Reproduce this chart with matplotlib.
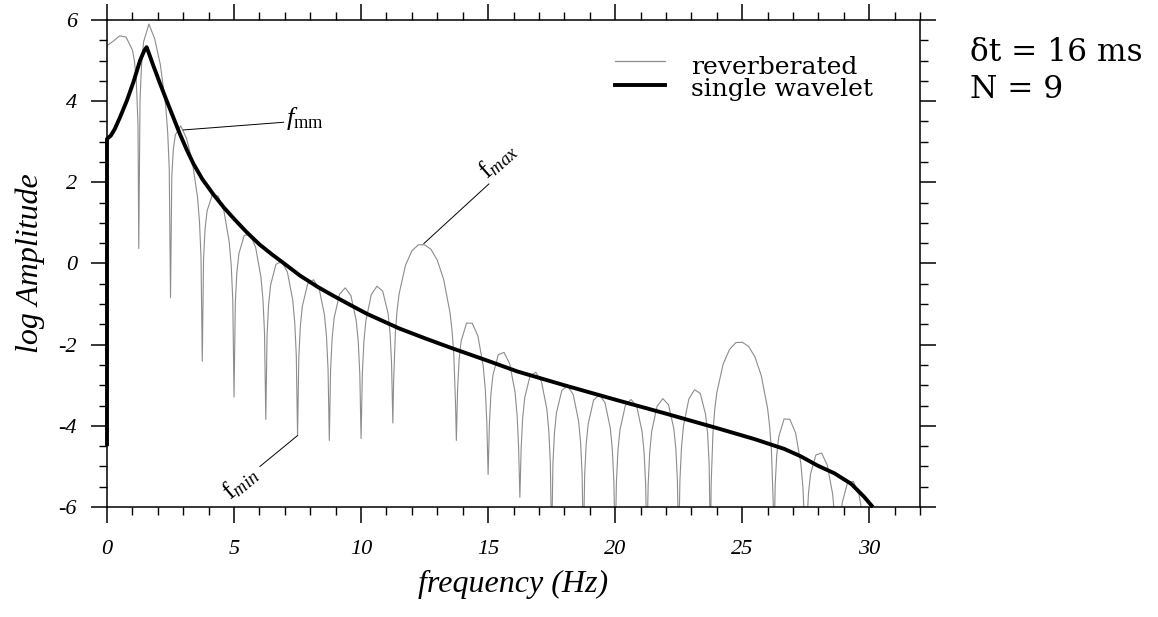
import matplotlib
matplotlib.use('Agg')
import matplotlib.pyplot as plt
from matplotlib.ticker import MultipleLocator, FormatStrFormatter

plt.rcParams['font.family'] = ['Liberation Serif', 'DejaVu Serif']
plt.rcParams['mathtext.fontset'] = 'custom'
plt.rcParams['mathtext.rm'] = 'Liberation Serif'
plt.rcParams['mathtext.it'] = 'Liberation Serif:italic'
plt.rcParams['axes.unicode_minus'] = False

# single wavelet spectrum (log amplitude)
wavelet_f = [0, 0, 0.15, 0.31, 0.51, 0.78, 1.04, 1.30, 1.47, 1.56, 1.65, 1.82, 2.09, 2.35,
             2.61, 2.87, 3.14, 3.4, 3.75, 4.19, 4.6, 5.0, 5.5, 6.0, 6.5, 6.95, 7.6, 8.3,
             8.92, 9.6, 10.23, 11.5, 12.5, 13.5, 15.0, 16.15, 18.0, 20.09, 22.0, 24.03,
             25.5, 26.66, 27.3, 27.97, 28.63, 29.29, 29.8, 30.14]
wavelet_logA = [-4.5, 3.07, 3.15, 3.32, 3.6, 4.01, 4.47, 5.0, 5.25, 5.33, 5.18, 4.88, 4.43, 4.01,
                3.6, 3.19, 2.8, 2.46, 2.08, 1.70, 1.38, 1.10, 0.77, 0.47, 0.22, 0.01, -0.3, -0.58,
                -0.8, -1.03, -1.24, -1.6, -1.84, -2.07, -2.4, -2.66, -3.0, -3.37, -3.7, -4.06,
                -4.33, -4.57, -4.75, -4.98, -5.17, -5.43, -5.75, -6.0]

# reverberated spectrum, one lobe per line (each line ends on the following notch)
reverb_f = [
    0, 0.25, 0.5, 0.75, 1.0, 1.08, 1.15, 1.22, 1.25,
    1.30, 1.36, 1.44, 1.65, 1.875, 2.10, 2.31, 2.39, 2.45, 2.5,
    2.55, 2.61, 2.69, 2.90, 3.125, 3.35, 3.56, 3.64, 3.70, 3.75,
    3.80, 3.86, 3.94, 4.15, 4.375, 4.60, 4.81, 4.89, 4.95, 5.0,
    5.05, 5.11, 5.19, 5.40, 5.625, 5.85, 6.06, 6.14, 6.20, 6.25,
    6.30, 6.36, 6.44, 6.65, 6.875, 7.10, 7.31, 7.39, 7.45, 7.5,
    7.55, 7.61, 7.69, 7.90, 8.125, 8.35, 8.56, 8.64, 8.70, 8.75,
    8.80, 8.86, 8.94, 9.15, 9.375, 9.60, 9.81, 9.89, 9.95, 10.0,
    10.05, 10.11, 10.19, 10.40, 10.625, 10.85, 11.06, 11.14, 11.20, 11.25,
    11.28, 11.35, 11.42, 11.5, 11.75, 12.0, 12.25, 12.5, 12.75, 13.0, 13.25, 13.5, 13.58, 13.65, 13.72, 13.75,
    13.80, 13.86, 13.94, 14.15, 14.375, 14.60, 14.81, 14.89, 14.95, 15.0,
    15.05, 15.11, 15.19, 15.40, 15.625, 15.85, 16.06, 16.14, 16.20, 16.25,
    16.30, 16.36, 16.44, 16.65, 16.875, 17.10, 17.31, 17.39, 17.45, 17.5,
    17.55, 17.61, 17.69, 17.90, 18.125, 18.35, 18.56, 18.64, 18.70, 18.75,
    18.80, 18.86, 18.94, 19.15, 19.375, 19.60, 19.81, 19.89, 19.95, 20.0,
    20.05, 20.11, 20.19, 20.40, 20.625, 20.85, 21.06, 21.14, 21.20, 21.25,
    21.30, 21.36, 21.44, 21.65, 21.875, 22.10, 22.31, 22.39, 22.45, 22.5,
    22.55, 22.61, 22.69, 22.90, 23.125, 23.35, 23.56, 23.64, 23.70, 23.75,
    23.78, 23.85, 23.92, 24.0, 24.25, 24.5, 24.75, 25.0, 25.25, 25.5, 25.75, 26.0, 26.08, 26.15, 26.22, 26.25,
    26.30, 26.36, 26.44, 26.65, 26.875, 27.10, 27.31, 27.39, 27.45, 27.5,
    27.55, 27.61, 27.69, 27.90, 28.125, 28.35, 28.56, 28.64, 28.70, 28.75,
    28.80, 28.86, 28.94, 29.15, 29.375, 29.60, 29.81, 29.89, 29.95, 30.0,
]
reverb_logA = [
    5.37, 5.48, 5.61, 5.58, 5.26, 4.99, 4.55, 3.43, 0.37,
    4.04, 4.90, 5.46, 5.90, 5.54, 4.90, 3.89, 3.22, 2.33, -0.84,
    2.13, 2.81, 3.17, 3.39, 3.09, 2.54, 1.65, 1.03, 0.17, -2.41,
    0.10, 0.85, 1.30, 1.70, 1.66, 1.30, 0.53, -0.05, -0.90, -3.29,
    -0.97, -0.23, 0.24, 0.69, 0.72, 0.40, -0.34, -0.90, -1.72, -3.84,
    -1.77, -1.02, -0.53, -0.02, 0.05, -0.21, -0.90, -1.46, -2.26, -4.24,
    -2.31, -1.54, -1.05, -0.50, -0.40, -0.62, -1.27, -1.81, -2.60, -4.36,
    -2.62, -1.85, -1.34, -0.76, -0.60, -0.79, -1.41, -1.93, -2.72, -4.31,
    -2.72, -1.93, -1.41, -0.77, -0.56, -0.68, -1.22, -1.71, -2.46, -3.93,
    -2.93, -1.70, -1.14, -0.74, -0.04, 0.31, 0.46, 0.46, 0.35, 0.08, -0.39, -1.21, -1.65, -2.24, -3.51, -4.36,
    -3.08, -2.36, -1.91, -1.47, -1.47, -1.79, -2.54, -3.11, -3.93, -5.2,
    -3.98, -3.22, -2.75, -2.25, -2.19, -2.47, -3.17, -3.73, -4.53, -5.76,
    -4.57, -3.81, -3.31, -2.77, -2.68, -2.91, -3.58, -4.13, -4.93, -7.0,
    -4.95, -4.19, -3.68, -3.13, -3.01, -3.23, -3.88, -4.41, -5.20, -7.0,
    -5.22, -4.45, -3.95, -3.37, -3.23, -3.43, -4.06, -4.59, -5.38, -7.0,
    -5.39, -4.61, -4.10, -3.50, -3.35, -3.52, -4.14, -4.66, -5.44, -7.0,
    -5.44, -4.66, -4.13, -3.52, -3.33, -3.48, -4.07, -4.57, -5.35, -7.0,
    -5.34, -4.54, -4.00, -3.34, -3.11, -3.20, -3.72, -4.20, -4.94, -7.0,
    -5.41, -4.17, -3.60, -3.19, -2.48, -2.12, -1.95, -1.94, -2.04, -2.30, -2.76, -3.57, -4.01, -4.60, -5.87, -7.0,
    -5.44, -4.72, -4.27, -3.83, -3.84, -4.17, -4.93, -5.51, -6.34, -7.0,
    -6.41, -5.66, -5.19, -4.72, -4.67, -4.97, -5.68, -6.24, -7.06, -7.5,
    -7.12, -6.37, -5.89, -5.39, -5.37, -5.70, -6.47, -7.06, -7.9, -8.0,
]

legend_labels = ['reverberated', 'single wavelet']
params_lines = ['δt = 16 ms', 'N = 9']

fig = plt.figure(figsize=(11.58, 6.17), dpi=100)
ax = fig.add_axes([0.0924, 0.1783, 0.7021, 0.7893])

ax.plot(reverb_f, reverb_logA, color='#8c8c8c', lw=0.8)
ax.plot(wavelet_f, wavelet_logA, color='black', lw=2.8, clip_on=False, solid_capstyle='butt')

ax.set_xlim(0, 32)
ax.set_ylim(-6, 6)
ax.xaxis.set_major_locator(MultipleLocator(5))
ax.xaxis.set_minor_locator(MultipleLocator(1))
ax.yaxis.set_major_locator(MultipleLocator(2))
ax.yaxis.set_minor_locator(MultipleLocator(0.5))
ax.yaxis.set_major_formatter(FormatStrFormatter('%d'))

for side in ax.spines:
    ax.spines[side].set_linewidth(1.1)
ax.tick_params(which='major', direction='out', length=11.5, width=1.1,
               top=True, right=True, labelsize=16)
ax.tick_params(which='minor', direction='out', length=5.5, width=1.0,
               top=True, right=True)
ax.tick_params(axis='x', which='major', pad=12)
ax.tick_params(axis='y', which='major', pad=10)
for lab in ax.get_xticklabels() + ax.get_yticklabels():
    lab.set_fontstyle('italic')

ax.set_xlabel('frequency (Hz)', fontsize=23, fontstyle='italic', labelpad=8)
ax.set_ylabel('log Amplitude', fontsize=23, fontstyle='italic', labelpad=10)

# hand-made legend, rows sit closer than ax.legend allows
ax.plot([0.625, 0.686], [0.9164, 0.9164], transform=ax.transAxes, color='#8c8c8c', lw=0.9)
ax.plot([0.625, 0.686], [0.8665, 0.8665], transform=ax.transAxes, color='black', lw=2.8)
ax.text(0.718, 0.8886, legend_labels[0], transform=ax.transAxes, fontsize=18,
        family='DejaVu Serif', va='baseline')
ax.text(0.718, 0.8430, legend_labels[1], transform=ax.transAxes, fontsize=18,
        family='DejaVu Serif', va='baseline')

# annotations
ax.plot([3.0, 6.95], [3.29, 3.48], color='black', lw=0.7)
ax.text(7.05, 3.42, r'$f_{\mathrm{mm}}$', fontsize=19, va='baseline', ha='left')
ax.plot([12.47, 15.03], [0.49, 1.96], color='black', lw=0.7)
ax.text(14.95, 2.05, r'$\mathrm{f}_{max}$', fontsize=19, rotation=42,
        rotation_mode='anchor', va='baseline', ha='left')
ax.plot([7.5, 6.02], [-4.24, -5.0], color='black', lw=0.7)
ax.text(4.85, -5.85, r'$\mathrm{f}_{min}$', fontsize=19, rotation=40,
        rotation_mode='anchor', va='baseline', ha='left')

fig.text(0.8377, 0.9016, params_lines[0], fontsize=22.5, family='DejaVu Serif', va='baseline')
fig.text(0.8377, 0.8417, params_lines[1], fontsize=22.5, family='DejaVu Serif', va='baseline')

fig.savefig('out.png', dpi=100)
